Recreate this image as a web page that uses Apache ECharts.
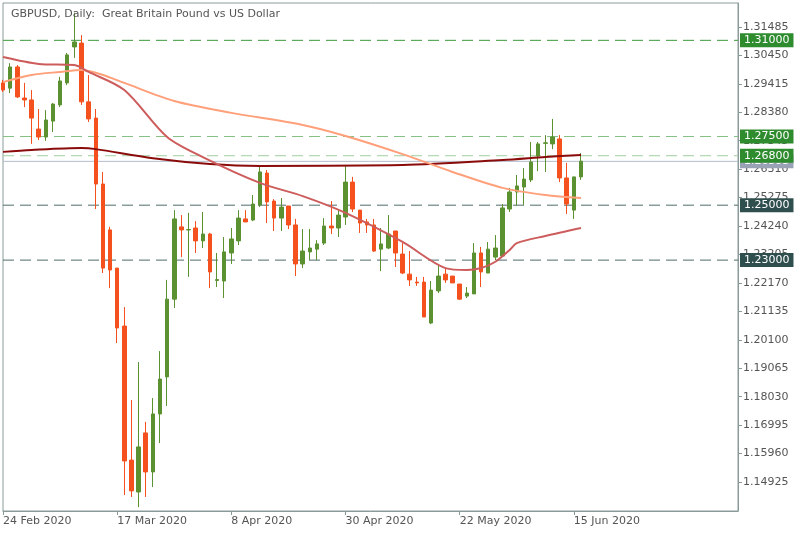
<!DOCTYPE html>
<html>
<head>
<meta charset="utf-8">
<script src="https://cdn.jsdelivr.net/npm/echarts@6/dist/echarts.min.js"></script>
<style>
  html, body { margin: 0; padding: 0; background: #fff; }
  #chart { width: 800px; height: 533px; }
</style>
</head>
<body>
<div id="chart"></div>
<script>
//Données : [open, close, low, high]
const candles = [
  [1.2945,1.2919,1.2912,1.2956],[1.2926,1.3003,1.2908,1.3017],[1.3003,1.2894,1.2890,1.3010],[1.2890,1.2883,1.2857,1.2945],
  [1.2883,1.2817,1.2723,1.2919],[1.2777,1.2748,1.2737,1.2850],[1.2748,1.2810,1.2734,1.2846],[1.2806,1.2868,1.2766,1.2872],
  [1.2865,1.2952,1.2857,1.2967],[1.2945,1.3047,1.2937,1.3054],[1.3076,1.3094,1.3036,1.3200],[1.3090,1.2876,1.2865,1.3119],
  [1.2876,1.2814,1.2803,1.2974],[1.2817,1.2577,1.2486,1.2850],[1.2577,1.2271,1.2253,1.2621],[1.2410,1.2264,1.2198,1.2421],
  [1.2271,1.2053,1.1998,1.2271],[1.2060,1.1569,1.1445,1.2129],[1.1572,1.1460,1.1438,1.1791],[1.1456,1.1620,1.1401,1.1929],
  [1.1671,1.1529,1.1438,1.1711],[1.1529,1.1740,1.1474,1.1798],[1.1740,1.1867,1.1634,1.1969],[1.1875,1.2158,1.1769,1.2228],
  [1.2158,1.2450,1.2126,1.2482],[1.2421,1.2410,1.2311,1.2464],[1.2410,1.2411,1.2239,1.2472],[1.2417,1.2370,1.2326,1.2442],
  [1.2370,1.2395,1.2344,1.2475],[1.2395,1.2257,1.2198,1.2399],[1.2226,1.2229,1.2202,1.2326],[1.2224,1.2330,1.2162,1.2384],
  [1.2326,1.2377,1.2286,1.2417],[1.2370,1.2453,1.2355,1.2482],[1.2450,1.2439,1.2439,1.2482],[1.2446,1.2504,1.2442,1.2537],
  [1.2501,1.2621,1.2493,1.2643],[1.2617,1.2512,1.2435,1.2628],[1.2515,1.2453,1.2406,1.2522],[1.2453,1.2493,1.2406,1.2526],
  [1.2497,1.2428,1.2413,1.2497],[1.2428,1.2286,1.2242,1.2450],[1.2286,1.2333,1.2271,1.2413],[1.2330,1.2344,1.2300,1.2413],
  [1.2340,1.2359,1.2300,1.2373],[1.2362,1.2424,1.2355,1.2453],[1.2424,1.2417,1.2395,1.2515],[1.2417,1.2464,1.2384,1.2486],
  [1.2457,1.2584,1.2428,1.2643],[1.2584,1.2486,1.2475,1.2603],[1.2482,1.2435,1.2399,1.2482],[1.2439,1.2428,1.2399,1.2450],
  [1.2428,1.2333,1.2330,1.2450],[1.2340,1.2359,1.2260,1.2417],[1.2344,1.2395,1.2340,1.2464],[1.2406,1.2326,1.2275,1.2406],
  [1.2322,1.2253,1.2249,1.2362],[1.2249,1.2228,1.2206,1.2333],[1.2220,1.2217,1.2206,1.2239],[1.2220,1.2093,1.2093,1.2239],
  [1.2071,1.2191,1.2067,1.2224],[1.2188,1.2242,1.2180,1.2279],[1.2249,1.2228,1.2217,1.2271],[1.2242,1.2217,1.2217,1.2242],
  [1.2213,1.2158,1.2155,1.2213],[1.2169,1.2180,1.2162,1.2202],[1.2177,1.2326,1.2177,1.2362],[1.2326,1.2257,1.2202,1.2348],
  [1.2253,1.2340,1.2253,1.2366],[1.2311,1.2344,1.2300,1.2391],[1.2315,1.2490,1.2315,1.2504],[1.2486,1.2548,1.2475,1.2563],
  [1.2548,1.2570,1.2497,1.2610],[1.2566,1.2595,1.2501,1.2635],[1.2592,1.2657,1.2584,1.2730],[1.2679,1.2723,1.2624,1.2730],
  [1.2725,1.2727,1.2621,1.2755],[1.2723,1.2748,1.2704,1.2814],[1.2741,1.2599,1.2584,1.2755],[1.2599,1.2504,1.2468,1.2654],
  [1.2482,1.2603,1.2450,1.2603],[1.2603,1.2660,1.2592,1.2690]
];

//Moyennes mobiles : [index, valeur]
const maSlow = [[0,1.2694],[4,1.2701],[11,1.2708],[13,1.2704],[21,1.2671],[29,1.2650],[36,1.2643],[56,1.2646],[70,1.2664],[76,1.2675],[81,1.2683]];
const maMid = [[0,1.2948],[4,1.2974],[8,1.2985],[11,1.2992],[14,1.2974],[17,1.2945],[24,1.2879],[32,1.2836],[42,1.2792],[48,1.2752],[56,1.2686],[63,1.2621],[70,1.2563],[76,1.2537],[81,1.2526]];
const maFast = [[0,1.3039],[5,1.3014],[10,1.3010],[12,1.2985],[17,1.2919],[23,1.2748],[28,1.2675],[36,1.2581],[42,1.2533],[48,1.2472],[56,1.2366],[62,1.2271],[65,1.2264],[67,1.2271],[69,1.2294],[71,1.2337],[72,1.2362],[76,1.2388],[81,1.2417]];

//Axe des prix et niveaux horizontaux
const priceTicks = [1.31485,1.30450,1.29415,1.28380,1.27345,1.26310,1.25275,1.24240,1.23205,1.22170,1.21135,1.20100,1.19065,1.18030,1.16995,1.15960,1.14925];
const levels = [1.31000, 1.27500, 1.26800, 1.25000, 1.23000];
const levelLines = ['#3c9a3c', '#84c084', '#9fcf9f', '#4f6b6b', '#4f6b6b'];
const levelBoxes = ['#2e8b2e', '#2e8b2e', '#2e8b2e', '#2f4f4f', '#2f4f4f'];
const lastPrice = 1.26595;

//Axe du temps
const dateLabels = ['24 Feb 2020','17 Mar 2020','8 Apr 2020','30 Apr 2020','22 May 2020','15 Jun 2020'];
const slots = 104;
const categories = [];
for (let i = 0; i < slots; i++) categories.push(i % 16 === 0 && dateLabels[i / 16] ? dateLabels[i / 16] : '');

const chart = echarts.init(document.getElementById('chart'));

//Ligne horizontale sur toute la largeur, étiquette en bout de ligne
function levelSeries(v, lineColor, boxColor, solid, z) {
  return {
    type: 'line', z: z, symbol: 'none', silent: true,
    data: [[0, v], [slots - 1, v]],
    lineStyle: { color: lineColor, type: solid ? 'solid' : [11, 6], width: 1 },
    endLabel: {
      show: true, distance: 2,
      formatter: () => v.toFixed(5),
      color: '#fff', backgroundColor: boxColor,
      fontFamily: 'DejaVu Sans', fontSize: 11, padding: [2, 4, 1, 4]
    }
  };
}

const series = [
  levelSeries(lastPrice, '#b4bccb', '#9aa3b5', true, 1),
  ...levels.map((v, i) => levelSeries(v, levelLines[i], levelBoxes[i], false, 2)),
  {
    type: 'candlestick',
    data: candles,
    barWidth: 4,
    z: 4,
    itemStyle: { color: '#5b9130', color0: '#f4511e', borderColor: '#5b9130', borderColor0: '#f4511e', borderWidth: 1 }
  },
  { type: 'line', data: maSlow, smooth: 0.3, symbol: 'none', lineStyle: { color: '#8b0b0b', width: 2 }, z: 5 },
  { type: 'line', data: maMid, smooth: 0.3, symbol: 'none', lineStyle: { color: '#ffa07a', width: 2 }, z: 5 },
  { type: 'line', data: maFast, smooth: 0.3, symbol: 'none', lineStyle: { color: '#cd5c5c', width: 2 }, z: 5 }
];

chart.setOption({
  animation: false,
  backgroundColor: '#fff',
  title: {
    text: 'GBPUSD, Daily:  Great Britain Pound vs US Dollar',
    left: 6, top: 4,
    textStyle: { fontFamily: 'DejaVu Sans', fontSize: 11, fontWeight: 'normal', color: '#555' }
  },
  grid: { left: 3, right: 62, top: 3, bottom: 22, show: true, borderColor: '#8a9a9a', borderWidth: 1 },
  xAxis: {
    type: 'category',
    data: categories,
    boundaryGap: false,
    axisLine: { lineStyle: { color: '#8a9a9a' } },
    axisTick: { show: true, interval: i => i % 16 === 0 && i < 96, length: 4, lineStyle: { color: '#8a9a9a' } },
    axisLabel: { interval: 0, color: '#555', fontFamily: 'DejaVu Sans', fontSize: 11, align: 'left', margin: 5 },
    splitLine: { show: false }
  },
  yAxis: {
    type: 'value',
    position: 'right',
    min: 1.13868, max: 1.32359,
    axisLine: { show: true, lineStyle: { color: '#8a9a9a' } },
    axisTick: { show: true, customValues: priceTicks, length: 4, lineStyle: { color: '#8a9a9a' } },
    axisLabel: { customValues: priceTicks, formatter: v => v.toFixed(5), color: '#555', fontFamily: 'DejaVu Sans', fontSize: 11, margin: 5 },
    splitLine: { show: false }
  },
  series: series
});

window.addEventListener('resize', () => chart.resize());
</script>
</body>
</html>
